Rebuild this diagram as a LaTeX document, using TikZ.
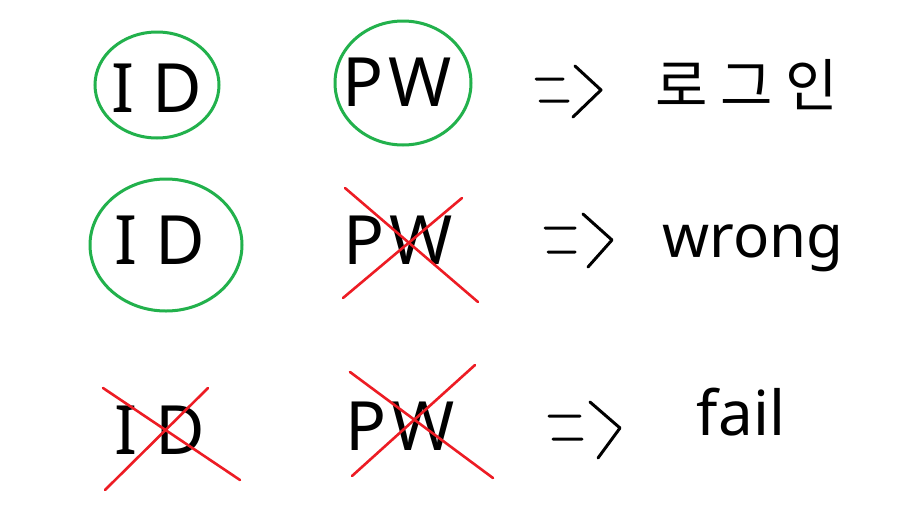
\documentclass[tikz,border=0pt]{standalone}
\usepackage{fontspec}
\setmainfont{Noto Sans}
\newfontfamily\krfont{Noto Sans CJK KR}
\definecolor{okgreen}{HTML}{22B14C}
\definecolor{nored}{HTML}{ED1C24}
\begin{document}
\begin{tikzpicture}[x=1pt,y=-1pt,
  lbl/.style={font=\fontsize{68}{72}\selectfont, inner sep=0pt, anchor=center},
  res/.style={font=\fontsize{60}{66}\selectfont, inner sep=0pt, anchor=center},
  okring/.style={draw=okgreen, line width=3pt},
  nocross/.style={draw=nored, line width=2.6pt, line cap=round},
  implies/.style={draw=black, line width=3pt, line cap=round, line join=round}]
\useasboundingbox[fill=white] (0,0) rectangle (916,520);

% Row 1
\node[lbl] (id1) at (157,88) {I\hspace{18pt}D};
\node[lbl] (pw1) at (397,82) {P\hspace{5pt}W};
\draw[okring] (157,85) ellipse [x radius=62, y radius=53];
\draw[okring] (403,83) ellipse [x radius=68, y radius=62];
\draw[implies] (536,79) -- (563,79) (540,101) -- (568,101) (575,66) -- (601,90) -- (573,117);
\node[font=\krfont\fontsize{57}{60}\selectfont, inner sep=0pt] (r1) at (747,85) {로 그 인};

% Row 2
\node[lbl] (id2) at (160,240) {I\hspace{18pt}D};
\node[lbl] (pw2) at (398,240) {P\hspace{5pt}W};
\draw[okring] (166,245) ellipse [x radius=76, y radius=66];
\draw[nocross] (345,188) -- (478,302);
\draw[nocross] (343,298) -- (462,198);
\draw[implies] (545,228) -- (575,228) (548,252) -- (575,252) (583,214) -- (612,240) -- (588,267);
\node[res] (r2) at (753,248) {wrong};

% Row 3
\node[lbl] (id3) at (160,430) {I\hspace{18pt}D};
\node[lbl] (pw3) at (400,426) {P\hspace{5pt}W};
\draw[nocross] (103,388) -- (240,480);
\draw[nocross] (105,490) -- (208,388);
\draw[nocross] (350,372) -- (493,478);
\draw[nocross] (352,476) -- (475,365);
\draw[implies] (549,416) -- (580,416) (553,439) -- (582,439) (590,402) -- (620,428) -- (598,458);
\node[res, font=\fontsize{62}{66}\selectfont] (r3) at (741,412) {fail};
\end{tikzpicture}
\end{document}
